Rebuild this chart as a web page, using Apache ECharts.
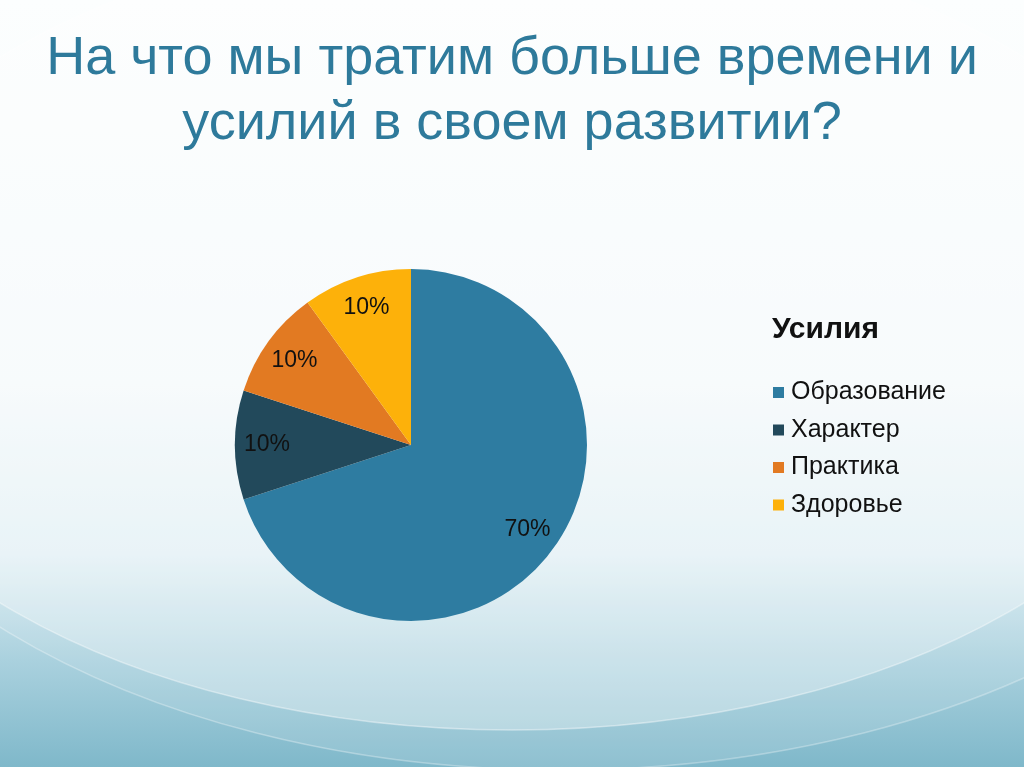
<!DOCTYPE html>
<html>
<head>
<meta charset="utf-8">
<script src="https://cdn.jsdelivr.net/npm/echarts@6/dist/echarts.min.js"></script>
<style>
html,body{margin:0;padding:0;width:1024px;height:767px;overflow:hidden;}
#c{width:1024px;height:767px;}
</style>
</head>
<body>
<div id="c"></div>
<script>
const titleText = 'На что мы тратим больше времени и\nусилий в своем развитии?';
const legendTitle = 'Усилия';
const categories = ['Образование', 'Характер', 'Практика', 'Здоровье'];
const values = [70, 10, 10, 10];
const colors = ['#2E7CA1', '#22495B', '#E27A22', '#FDB10A'];

const data = categories.map((n, i) => ({ name: n, value: values[i], itemStyle: { color: colors[i] } }));
const FONT = 'Liberation Sans, Arial, sans-serif';

const chart = echarts.init(document.getElementById('c'));
chart.setOption({
  backgroundColor: {
    type: 'linear', x: 0, y: 0, x2: 0, y2: 1,
    colorStops: [
      { offset: 0, color: '#FCFEFE' },
      { offset: 0.5, color: '#F3F9FB' },
      { offset: 0.72, color: '#DCEDF3' },
      { offset: 0.86, color: '#AAD1DE' },
      { offset: 1, color: '#7FB8CA' }
    ]
  },
  graphic: [
    {
      type: 'ellipse', silent: true, z: -10,
      shape: { cx: 512, cy: 330, rx: 700, ry: 400 },
      style: { fill: 'rgba(255,255,255,0.3)', stroke: 'rgba(255,255,255,0.4)', lineWidth: 1.5 }
    },
    {
      type: 'ellipse', silent: true, z: -10,
      shape: { cx: 560, cy: 300, rx: 780, ry: 470 },
      style: { fill: 'rgba(255,255,255,0.12)', stroke: 'rgba(255,255,255,0.3)', lineWidth: 1.5 }
    }
  ],
  title: [
    {
      text: titleText, left: 'center', top: 22,
      textStyle: { color: '#2E7A9B', fontFamily: FONT, fontWeight: 'normal', fontSize: 54, lineHeight: 65 }
    },
    {
      text: legendTitle, left: 767, top: 310,
      textStyle: { color: '#111', fontFamily: FONT, fontWeight: 'bold', fontSize: 30 }
    }
  ],
  legend: {
    orient: 'vertical', left: 768, top: 375,
    itemWidth: 11, itemHeight: 11, itemGap: 12.5, icon: 'rect',
    textStyle: { color: '#111', fontFamily: FONT, fontSize: 25, padding: [0, 0, 0, 2] },
    data: categories
  },
  series: [
    {
      type: 'pie', center: [411, 445], radius: [0, 176],
      startAngle: 90, clockwise: true, silent: true,
      label: { show: false }, labelLine: { show: false },
      data: data
    },
    {
      type: 'pie', center: [411, 445], radius: [106, 176],
      startAngle: 90, clockwise: true, silent: true,
      itemStyle: { color: 'rgba(0,0,0,0)' },
      label: {
        show: true, position: 'inside',
        formatter: p => p.value + '%',
        color: '#111', fontFamily: FONT, fontSize: 23
      },
      labelLine: { show: false },
      data: categories.map((n, i) => ({ name: n, value: values[i], itemStyle: { color: 'rgba(0,0,0,0)' } }))
    }
  ]
});
</script>
</body>
</html>
